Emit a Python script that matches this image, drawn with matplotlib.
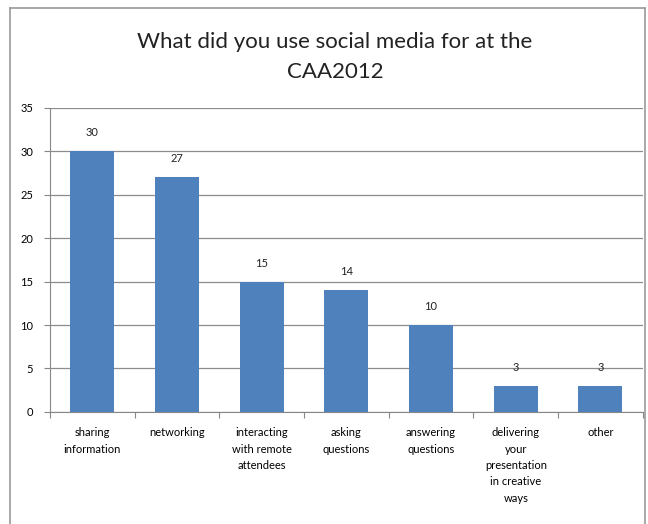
import matplotlib
matplotlib.use('Agg')
import matplotlib.pyplot as plt
from matplotlib.lines import Line2D

categories = ['sharing\ninformation', 'networking', 'interacting\nwith remote\nattendees',
              'asking\nquestions', 'answering\nquestions',
              'delivering\nyour\npresentation\nin creative\nways', 'other']
values = [30, 27, 15, 14, 10, 3, 3]

plt.rcParams['font.family'] = ['Lato', 'DejaVu Sans']

fig = plt.figure(figsize=(6.48, 5.24), dpi=100)
ax = fig.add_axes([0.077, 0.214, 0.915, 0.58])

x = range(len(values))
ax.bar(x, values, width=0.52, color='#4F81BD', zorder=3)
for i, v in zip(x, values):
    ax.text(i, v + 1.5, str(v), ha='center', va='bottom', fontsize=8, color='#222222')

ax.set_xlim(-0.5, len(values) - 0.5)
ax.set_ylim(0, 35)
ax.set_yticks(range(0, 36, 5))
ax.yaxis.grid(True, color='#8c8c8c', linewidth=0.9, zorder=0)
ax.set_xticks([i - 0.5 for i in range(len(values) + 1)], minor=False)
ax.set_xticklabels([])
ax.set_xticks(list(x), minor=True)
ax.set_xticklabels(categories, minor=True, fontsize=8, linespacing=1.6, va='top')
ax.tick_params(axis='x', which='minor', length=0, pad=11)
ax.tick_params(axis='x', which='major', length=4, color='#888888')
ax.tick_params(axis='y', length=4, color='#888888', labelsize=8, pad=8)

for s in ['top', 'right']:
    ax.spines[s].set_visible(False)
ax.spines['left'].set_color('#888888')
ax.spines['bottom'].set_color('#888888')

fig.text(0.517, 0.92, 'What did you use social media for at the', ha='center', va='center',
         fontsize=16, color='#222222')
fig.text(0.517, 0.862, 'CAA2012', ha='center', va='center', fontsize=16, color='#222222')

# chart border
for xs, ys in [([0.015, 0.015], [0.0, 0.985]), ([0.015, 0.995], [0.985, 0.985]),
               ([0.995, 0.995], [0.0, 0.985])]:
    fig.add_artist(Line2D(xs, ys, color='#999999', linewidth=1.2, transform=fig.transFigure))

fig.savefig('out.png', dpi=100)
